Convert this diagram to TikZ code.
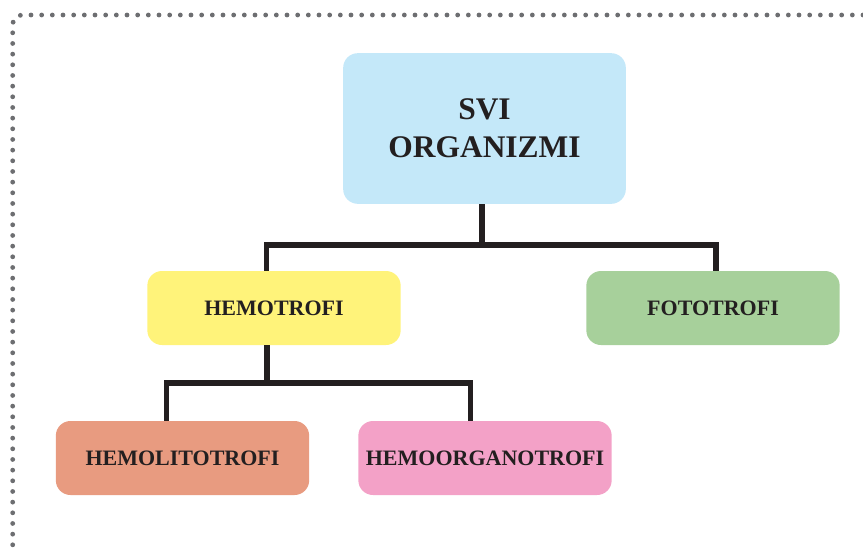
\documentclass[tikz,border=0pt]{standalone}
\usepackage{fontspec}
\setmainfont{Liberation Serif}
\usepackage{xcolor}
\definecolor{rootc}{HTML}{C4E8F9}
\definecolor{hemoc}{HTML}{FFF37A}
\definecolor{fotoc}{HTML}{A7D09B}
\definecolor{litoc}{HTML}{E89B80}
\definecolor{orgc}{HTML}{F3A1C7}
\definecolor{inkc}{HTML}{231F20}
\definecolor{dotc}{HTML}{6D6E71}

\begin{document}
\begin{tikzpicture}[x=0.75pt,y=-0.75pt,
    box/.style={rounded corners=11pt, inner sep=0pt, text=inkc,
      minimum width=190pt, minimum height=55.5pt, align=center,
      font=\fontsize{16.5}{19.8}\selectfont\bfseries},
    link/.style={draw=inkc, line width=4pt, line join=miter},
    frame/.style={draw=dotc, line width=3.6pt, line cap=round,
      dash pattern=on 0pt off 8pt, rounded corners=7pt}]
  \useasboundingbox (0,0) rectangle (863,550);

  % ==========================================================
  %                     FRAME (dotted, cut off right/bottom)
  % ==========================================================
  \path[frame] (863,15) -- (12.7,15) -- (12.7,557) -- (60,557);

  % ==========================================================
  %                     BOXES
  % ==========================================================
  \node[box, fill=rootc, minimum width=212pt, minimum height=113pt,
        font=\fontsize{23.6}{28.2}\selectfont\bfseries]
        (svi) at (484.5,128.5) {SVI\\ORGANIZMI};
  \node[box, fill=hemoc] (hemo)  at (274,308)   {HEMOTROFI};
  \node[box, fill=fotoc] (foto)  at (713,308)   {FOTOTROFI};
  \node[box, fill=litoc] (hlito) at (182.5,458) {HEMOLITOTROFI};
  \node[box, fill=orgc]  (horg)  at (485,458)   {HEMOORGANOTROFI};

  % ==========================================================
  %                     CONNECTORS
  % ==========================================================
  \coordinate (bar1) at (482,245);
  \coordinate (bar2) at (267,383);

  \draw[link] (svi.south -| bar1) -- (bar1);
  \draw[link] ([xshift=-5.5pt]hemo.north) |- (bar1) -| ([xshift=2.25pt]foto.north);

  \draw[link] (hemo.south -| bar2) -- (bar2);
  \draw[link] ([xshift=-11.9pt]hlito.north) |- (bar2) -| ([xshift=-10.7pt]horg.north);
\end{tikzpicture}
\end{document}
